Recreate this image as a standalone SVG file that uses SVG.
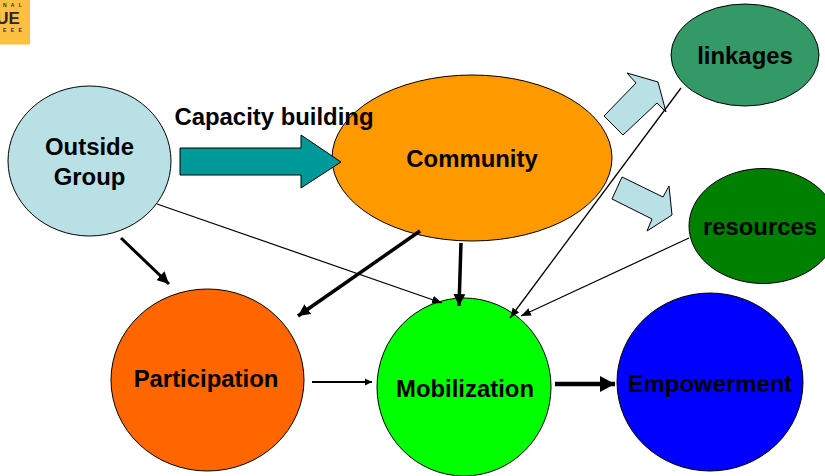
<svg xmlns="http://www.w3.org/2000/svg" width="825" height="476" viewBox="0 0 825 476">
<style>
text{font-family:"Liberation Sans",Arial,sans-serif;font-weight:bold;fill:#000;font-size:23.900px;text-anchor:middle}
.n{stroke:#000;stroke-width:1}
.blk{stroke:#000;fill:none}
.block{stroke:#000;stroke-width:1}
.logo{font-size:5px;fill:#3a3226;text-anchor:start;letter-spacing:1.500px}
</style>
<defs>
<marker id="hs" markerUnits="userSpaceOnUse" markerWidth="11" markerHeight="9" refX="10" refY="4.500" orient="auto"><path d="M0,0.500 L10,4.500 L0,8.500 Z" fill="#000"/></marker>
<marker id="hp" markerUnits="userSpaceOnUse" markerWidth="8" markerHeight="8" refX="7" refY="4" orient="auto"><path d="M0,0.500 L7,4 L0,7.500 Z" fill="#000"/></marker>
<marker id="hm" markerUnits="userSpaceOnUse" markerWidth="13" markerHeight="12" refX="12" refY="6" orient="auto"><path d="M0,0 L12,6 L0,12 Z" fill="#000"/></marker>
<marker id="hl" markerUnits="userSpaceOnUse" markerWidth="16" markerHeight="16" refX="15" refY="8" orient="auto"><path d="M0,0 L15,8 L0,16 Z" fill="#000"/></marker>
</defs>
<rect width="825" height="476" fill="#fff"/>
<g id="logo">
<rect x="0" y="0" width="30" height="44.500" fill="#fdc040"/>
<text class="logo" x="3" y="7">N A L</text>
<text x="8" y="24" style="font-size:17px;fill:#2a2620">UE</text>
<text class="logo" x="3" y="32">E E E</text>
</g>
<g id="node-linkages"><ellipse class="n" cx="745" cy="55" rx="74" ry="51" fill="#339966"/><text x="745" y="64">linkages</text></g>
<g id="node-resources"><ellipse class="n" cx="763" cy="226" rx="74" ry="57.500" fill="#008000"/><text x="760" y="235">resources</text></g>
<g id="node-outside"><ellipse class="n" cx="89.500" cy="161" rx="81.500" ry="75" fill="#b9e0e5"/><text x="89.500" y="155">Outside</text><text x="89.500" y="185">Group</text></g>
<g id="node-community"><ellipse class="n" cx="472" cy="158" rx="140" ry="83" fill="#ff9900"/><text x="472" y="167">Community</text></g>
<g id="node-participation"><ellipse class="n" cx="207.500" cy="380" rx="96.500" ry="91" fill="#ff6600"/><text x="206" y="387">Participation</text></g>
<g id="node-mobilization"><ellipse class="n" cx="464" cy="387" rx="87" ry="89" fill="#00ff00"/><text x="465" y="397">Mobilization</text></g>
<g id="node-empowerment"><ellipse class="n" cx="710" cy="382" rx="93" ry="89" fill="#0000ff"/><text x="710" y="392">Empowerment</text></g>
<g id="connectors">
<polygon class="block" points="180,148 301,148 301,135 341,162 301,188 301,175 180,175" fill="#009999"/>
<polygon class="block" points="604,116 636,83 627,73 658,82 666,112 657,103 623,135" fill="#b9e0e5"/>
<polygon class="block" points="622,177 663,197 669,186 672,215 647,231 652,219 612,199" fill="#b9e0e5"/>
<line class="blk" stroke-width="1.300" x1="681" y1="88" x2="510" y2="318" marker-end="url(#hs)"/>
<line class="blk" stroke-width="1.200" x1="689" y1="238" x2="521" y2="316" marker-end="url(#hs)"/>
<line class="blk" stroke-width="1.200" x1="157" y1="204" x2="442" y2="303" marker-end="url(#hs)"/>
<line class="blk" stroke-width="3" x1="121" y1="238" x2="169" y2="284" marker-end="url(#hm)"/>
<line class="blk" stroke-width="3.500" x1="420" y1="231" x2="298" y2="316" marker-end="url(#hm)"/>
<line class="blk" stroke-width="3.500" x1="461" y1="243" x2="459" y2="306" marker-end="url(#hm)"/>
<line class="blk" stroke-width="1.800" x1="312" y1="382" x2="372" y2="382" marker-end="url(#hp)"/>
<line class="blk" stroke-width="4.500" x1="555" y1="384" x2="615" y2="384" marker-end="url(#hl)"/>
</g>
<text id="label-capacity" x="274" y="125">Capacity building</text>
</svg>
